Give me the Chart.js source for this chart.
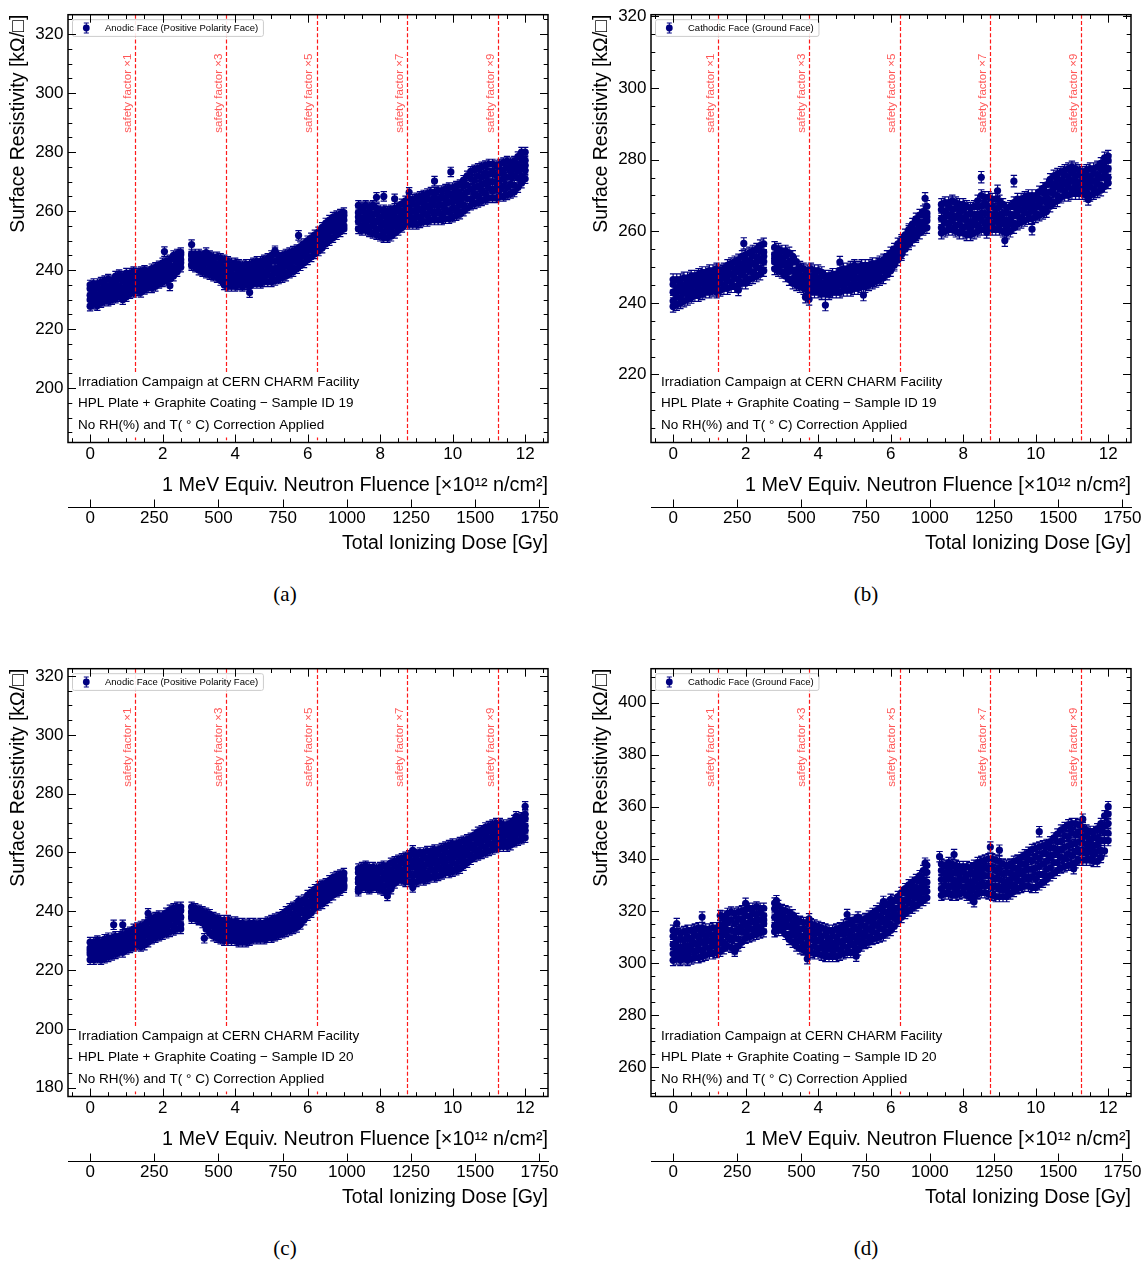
<!DOCTYPE html>
<html>
<head>
<meta charset="utf-8">
<title>Surface resistivity versus fluence</title>
<script src="https://cdn.jsdelivr.net/npm/chart.js@4.4.1/dist/chart.umd.min.js"></script>
<style>
  body { margin: 0; background: #fff; }
  #page { position: relative; width: 1146px; height: 1263px; overflow: hidden; }
  #page canvas { position: absolute; }
  .caption { position: absolute; width: 60px; text-align: center; line-height: 24px;
             font-family: 'Liberation Serif', 'Times New Roman', serif; font-size: 21px; color: #000; }
</style>
</head>
<body>
<div id="page">
  <canvas id="panelA" width="563" height="570" style="left:0px;top:0px"></canvas>
  <canvas id="panelB" width="563" height="570" style="left:583px;top:0px"></canvas>
  <canvas id="panelC" width="563" height="570" style="left:0px;top:654px"></canvas>
  <canvas id="panelD" width="563" height="570" style="left:583px;top:654px"></canvas>
  <div class="caption" style="left:255px;top:582px">(a)</div>
  <div class="caption" style="left:836px;top:582px">(b)</div>
  <div class="caption" style="left:255px;top:1236px">(c)</div>
  <div class="caption" style="left:836px;top:1236px">(d)</div>
</div>
<script>
// fluence points of the measurement runs [x 10^12 n/cm^2]
var fluence = [
  0.0, 0.1, 0.2, 0.3, 0.4, 0.5, 0.6, 0.7, 0.8, 0.9, 1.0, 1.1, 1.2, 1.3, 1.4, 1.5, 1.6, 1.7, 1.8, 1.9, 2.0, 2.1, 2.2, 2.3, 2.4, 2.5,
  2.8, 2.9, 3.0, 3.1, 3.2, 3.3, 3.4, 3.5, 3.6, 3.7, 3.8, 3.9, 4.0, 4.1, 4.2, 4.3, 4.4, 4.5, 4.6, 4.7, 4.8, 4.9, 5.0, 5.1, 5.2, 5.3, 5.4, 5.5, 5.6, 5.7, 5.8, 5.9, 6.0, 6.1, 6.2, 6.3, 6.4, 6.5, 6.6, 6.7, 6.8, 6.9, 7.0,
  7.4, 7.5, 7.6, 7.7, 7.8, 7.9, 8.0, 8.1, 8.2, 8.3, 8.4, 8.5, 8.6, 8.7, 8.8, 8.9, 9.0, 9.1, 9.2, 9.3, 9.4, 9.5, 9.6, 9.7, 9.8, 9.9, 10.0, 10.1, 10.2, 10.3, 10.4, 10.5, 10.6, 10.7, 10.8, 10.9, 11.0, 11.1, 11.2, 11.3, 11.4, 11.5, 11.6, 11.7, 11.8, 11.9, 12.0
];

// Sample 19, anodic face [kOhm/sq]: readings across the band at each fluence point, bottom to top
var anode19Low = [
  227.8, 228.5, 228.0, 229.0, 229.5, 229.5, 230.0, 230.5, 231.0, 230.0, 231.0, 232.0, 232.5, 233.0, 232.5, 233.5, 234.0, 234.0, 234.5, 235.5, 236.0, 236.5, 237.0, 238.0, 239.5, 241.0,
  241.5, 241.0, 240.0, 239.5, 239.0, 238.5, 238.0, 237.5, 236.5, 235.0, 234.5, 234.5, 234.5, 235.0, 234.5, 235.0, 234.5, 235.5, 235.5, 235.5, 236.0, 236.0, 236.0, 236.5, 237.0, 237.5, 238.0, 239.0, 239.5, 240.5, 241.5, 242.5, 243.5, 244.5, 245.5, 246.5, 247.5, 249.0, 250.0, 251.0, 252.0, 253.0, 254.0,
  254.0, 253.5, 253.5, 253.0, 252.5, 252.0, 251.5, 251.0, 251.0, 251.5, 252.5, 253.5, 254.5, 255.5, 255.5, 255.5, 255.5, 256.0, 256.5, 256.5, 257.0, 257.0, 257.0, 257.0, 257.5, 257.5, 258.0, 258.5, 259.0, 260.0, 261.0, 262.0, 262.5, 263.0, 263.5, 264.0, 264.5, 264.5, 264.5, 265.0, 265.0, 265.5, 266.0, 266.5, 268.0, 269.5, 271.0
];
var anode19LowMid = [
  230.0, 229.8, 230.2, 230.5, 231.5, 230.8, 232.0, 232.2, 233.0, 232.5, 232.8, 234.0, 234.0, 234.8, 234.2, 235.5, 235.2, 236.2, 236.0, 237.2, 237.3, 238.2, 238.5, 240.0, 240.8, 242.5,
  242.0, 242.5, 241.0, 241.5, 240.2, 240.8, 239.0, 239.5, 237.8, 237.5, 236.0, 237.0, 236.2, 236.8, 235.8, 237.0, 236.2, 237.8, 236.8, 238.0, 237.2, 238.5, 237.8, 239.0, 238.5, 239.8, 239.2, 241.0, 240.8, 242.8, 242.8, 244.8, 244.8, 246.8, 246.8, 248.8, 248.8, 251.2, 251.2, 253.2, 253.2, 255.0, 255.0,
  256.5, 255.0, 256.2, 254.5, 255.2, 253.8, 254.2, 252.8, 253.8, 253.2, 255.0, 255.0, 257.0, 257.0, 258.2, 257.2, 258.2, 257.8, 259.2, 258.5, 260.0, 259.0, 260.0, 259.0, 260.5, 259.8, 261.0, 260.5, 262.0, 262.2, 264.2, 264.2, 265.8, 265.2, 266.8, 266.2, 267.8, 266.8, 267.8, 267.2, 268.5, 268.0, 269.2, 268.8, 271.2, 271.8, 273.8
];
var anode19Mid = [
  231.5, 232.0, 231.5, 232.5, 233.0, 233.0, 233.5, 234.5, 234.5, 234.0, 235.0, 235.5, 236.0, 236.0, 236.5, 237.0, 237.0, 237.5, 238.0, 238.5, 239.0, 239.5, 240.5, 241.5, 242.5, 243.5,
  243.5, 243.0, 243.0, 242.5, 242.5, 242.0, 241.0, 240.5, 240.0, 239.0, 238.5, 238.5, 238.5, 238.0, 238.0, 238.0, 238.5, 239.0, 239.0, 239.5, 239.5, 240.0, 240.5, 240.5, 241.0, 241.0, 241.5, 242.0, 243.0, 244.0, 245.0, 246.0, 247.0, 248.0, 249.0, 250.0, 251.0, 252.5, 253.5, 254.5, 255.5, 256.0, 257.0,
  258.0, 257.5, 258.0, 257.0, 257.0, 256.5, 256.0, 255.5, 255.5, 256.0, 256.5, 257.5, 258.5, 259.5, 260.0, 260.0, 260.0, 260.5, 261.0, 261.5, 262.0, 262.0, 262.0, 262.0, 262.5, 263.0, 263.0, 263.5, 264.0, 265.5, 266.5, 267.5, 268.0, 268.5, 269.0, 269.5, 270.0, 270.0, 270.0, 270.5, 271.0, 271.5, 271.5, 272.0, 273.5, 275.0, 275.5
];
var anode19MidHigh = [
  233.8, 233.2, 234.0, 233.8, 235.2, 234.5, 235.5, 235.8, 237.0, 236.5, 236.5, 237.8, 237.2, 238.0, 237.5, 239.0, 238.0, 239.5, 239.0, 240.5, 240.2, 241.8, 241.5, 243.8, 243.5, 245.2,
  244.8, 244.0, 244.5, 243.5, 244.5, 243.2, 243.0, 242.2, 242.2, 241.0, 241.0, 240.2, 240.8, 239.8, 240.0, 239.8, 240.5, 240.5, 241.2, 241.0, 241.8, 241.8, 243.0, 243.0, 243.2, 242.8, 243.8, 243.8, 245.0, 245.2, 246.8, 247.2, 248.8, 249.2, 250.8, 251.2, 253.0, 254.0, 255.5, 256.0, 257.2, 257.2, 258.5,
  259.5, 260.0, 259.5, 259.8, 259.0, 259.2, 257.8, 258.5, 257.2, 258.8, 258.2, 260.0, 260.0, 262.0, 261.5, 262.5, 261.8, 263.2, 262.8, 264.2, 263.8, 264.8, 264.0, 265.0, 264.5, 266.0, 265.0, 266.5, 266.0, 268.5, 268.8, 271.0, 270.5, 272.0, 271.5, 273.0, 272.5, 273.5, 272.2, 273.8, 273.2, 274.8, 273.5, 275.0, 275.5, 278.0, 277.2
];
var anode19High = [
  235.0, 235.5, 235.5, 236.0, 236.5, 237.0, 236.5, 238.0, 238.5, 238.0, 239.0, 239.0, 239.5, 239.0, 239.5, 240.0, 239.5, 240.5, 241.0, 241.5, 242.5, 243.0, 243.5, 245.0, 245.5, 246.0,
  245.5, 245.5, 245.5, 245.0, 246.0, 245.0, 244.5, 244.5, 244.0, 243.5, 243.0, 242.5, 242.5, 242.0, 241.5, 242.0, 242.0, 242.5, 243.0, 243.0, 243.5, 244.0, 245.0, 246.0, 245.0, 245.0, 245.5, 246.0, 246.5, 247.0, 248.0, 249.0, 250.0, 251.0, 252.0, 253.0, 254.5, 256.0, 257.0, 258.0, 258.5, 259.0, 259.5,
  262.0, 261.5, 262.0, 261.5, 262.0, 261.0, 260.5, 260.5, 260.0, 260.5, 261.0, 261.5, 262.5, 263.5, 264.0, 264.0, 264.5, 265.0, 265.5, 266.0, 266.5, 266.5, 267.0, 267.0, 267.5, 268.0, 268.0, 268.5, 269.0, 270.5, 272.0, 273.5, 274.0, 274.5, 275.0, 275.5, 276.0, 276.0, 275.5, 276.0, 276.5, 277.0, 276.5, 277.0, 278.5, 280.0, 280.0
];
var anode19OutX = [2.05, 2.2, 2.8, 4.4, 5.1, 5.75, 7.9, 8.1, 8.4, 8.8, 9.5, 9.95];
var anode19OutY = [246.3, 234.7, 248.7, 232.4, 246.6, 251.8, 264.7, 265.0, 264.2, 266.4, 270.2, 273.3];

// Sample 19, cathodic face
var cathode19Low = [
  239.0, 239.5, 240.0, 240.5, 241.0, 241.5, 242.0, 242.0, 242.5, 243.0, 243.0, 243.5, 243.0, 243.5, 244.0, 244.0, 244.5, 244.5, 245.0, 245.5, 245.5, 246.5, 247.0, 247.5, 248.0, 249.0,
  249.5, 249.0, 248.5, 247.5, 246.5, 245.5, 245.0, 244.5, 244.0, 243.5, 243.0, 243.0, 243.0, 242.5, 242.5, 242.5, 243.0, 243.0, 243.0, 243.5, 243.5, 243.5, 244.0, 244.0, 244.5, 244.5, 245.0, 245.5, 246.0, 246.5, 247.0, 248.0, 249.0, 250.5, 252.0, 253.5, 255.0, 256.5, 257.5, 258.5, 259.5, 260.5, 261.0,
  259.5, 260.0, 260.5, 260.5, 260.0, 259.5, 259.5, 259.0, 259.0, 259.5, 260.0, 260.5, 260.5, 260.5, 260.5, 260.5, 260.5, 260.0, 259.5, 260.0, 261.0, 262.0, 262.5, 263.0, 263.5, 263.5, 264.0, 264.5, 265.0, 265.5, 267.0, 268.0, 268.5, 269.5, 270.0, 270.0, 270.5, 270.5, 270.5, 270.5, 270.0, 270.0, 270.5, 271.0, 271.5, 272.5, 273.5
];
var cathode19LowMid = [
  240.5, 241.8, 241.2, 242.8, 242.0, 243.5, 243.0, 244.0, 243.5, 245.0, 244.0, 245.5, 244.2, 245.5, 245.0, 246.2, 245.8, 247.0, 246.5, 248.0, 247.0, 249.0, 248.5, 250.0, 249.5, 251.5,
  251.5, 250.0, 250.5, 248.8, 248.8, 246.8, 247.0, 245.5, 245.8, 244.2, 245.0, 244.0, 245.0, 243.5, 244.2, 243.2, 244.8, 243.8, 245.0, 244.5, 245.5, 244.8, 246.0, 245.0, 246.5, 245.5, 247.0, 246.2, 247.8, 247.2, 249.0, 248.8, 250.8, 251.0, 253.5, 254.0, 256.5, 257.0, 259.0, 259.0, 261.0, 261.0, 263.0,
  261.0, 262.5, 262.0, 263.0, 261.5, 262.0, 261.0, 261.5, 260.2, 261.8, 261.5, 263.2, 262.2, 263.2, 262.0, 263.0, 262.0, 262.2, 260.8, 262.2, 262.2, 264.2, 263.8, 265.2, 264.8, 265.8, 265.0, 266.8, 266.2, 268.0, 268.5, 270.5, 270.0, 271.8, 271.2, 272.5, 271.8, 272.8, 271.5, 272.5, 271.2, 272.5, 271.8, 273.2, 272.8, 275.0, 275.0
];
var cathode19Mid = [
  243.0, 243.0, 243.5, 244.0, 244.0, 244.5, 245.0, 245.0, 245.5, 246.0, 246.0, 246.5, 246.5, 246.5, 247.0, 247.5, 248.0, 248.5, 249.0, 249.5, 249.5, 250.5, 251.0, 251.5, 252.0, 253.0,
  252.5, 252.0, 251.5, 251.0, 250.0, 249.0, 248.0, 247.5, 246.5, 246.0, 246.0, 246.0, 246.0, 245.5, 245.0, 245.0, 245.5, 245.5, 246.0, 246.5, 246.5, 247.0, 247.0, 247.0, 247.5, 247.5, 248.0, 248.0, 248.5, 249.0, 250.0, 250.5, 251.5, 252.5, 254.0, 255.5, 257.0, 258.5, 259.5, 260.5, 261.5, 262.5, 264.0,
  263.5, 264.0, 264.5, 264.5, 264.0, 263.5, 263.5, 263.0, 262.5, 263.0, 264.0, 265.0, 265.0, 265.0, 264.5, 264.5, 264.5, 263.5, 263.0, 263.5, 264.5, 265.5, 266.0, 266.5, 267.0, 267.0, 267.0, 268.0, 268.5, 269.5, 271.0, 272.0, 272.5, 273.0, 273.5, 274.0, 274.0, 274.0, 273.5, 273.5, 273.5, 274.0, 274.0, 274.5, 275.0, 276.5, 277.5
];
var cathode19MidHigh = [
  245.2, 244.2, 245.5, 245.0, 246.0, 245.5, 246.8, 246.0, 247.5, 246.8, 248.0, 247.2, 248.5, 247.2, 248.8, 248.5, 250.0, 249.5, 251.0, 250.8, 252.0, 251.8, 253.2, 252.8, 254.5, 254.2,
  253.5, 254.0, 252.5, 253.2, 251.5, 251.5, 249.2, 249.2, 247.5, 248.0, 247.2, 248.0, 247.0, 247.5, 245.8, 246.8, 246.2, 247.2, 247.0, 248.5, 247.5, 249.0, 248.2, 249.0, 248.5, 249.5, 248.8, 250.0, 249.2, 250.8, 250.5, 252.2, 252.2, 254.2, 254.8, 257.0, 257.5, 260.0, 260.2, 262.5, 262.5, 264.5, 265.0,
  266.0, 265.5, 266.8, 266.0, 266.5, 265.0, 266.0, 264.5, 265.0, 264.5, 266.8, 267.0, 267.8, 266.8, 267.2, 266.2, 267.0, 265.0, 265.2, 264.8, 266.8, 266.8, 268.0, 267.5, 269.0, 268.0, 269.0, 269.0, 270.8, 270.8, 273.2, 273.2, 274.8, 274.2, 275.8, 275.2, 276.5, 275.2, 275.8, 274.5, 275.8, 275.2, 276.2, 275.8, 277.5, 278.0, 279.8
];
var cathode19High = [
  246.5, 246.5, 246.5, 247.0, 247.0, 247.5, 247.5, 248.0, 248.5, 248.5, 249.0, 249.0, 249.5, 249.0, 249.5, 250.5, 251.0, 251.5, 252.0, 253.0, 253.5, 254.0, 254.5, 255.0, 256.0, 256.5,
  255.5, 255.0, 254.5, 254.5, 254.0, 253.0, 251.5, 250.0, 249.5, 249.0, 249.5, 249.0, 249.0, 248.5, 247.5, 247.5, 248.0, 248.0, 249.0, 249.5, 249.5, 250.0, 250.5, 250.0, 250.5, 250.5, 250.5, 251.0, 251.0, 251.5, 252.0, 253.0, 254.0, 255.0, 256.5, 257.5, 259.0, 260.5, 262.0, 263.5, 264.5, 265.5, 267.0,
  267.5, 268.0, 268.0, 268.5, 268.0, 267.5, 267.5, 267.0, 266.5, 267.0, 268.5, 270.0, 269.5, 269.5, 269.0, 269.0, 268.5, 267.5, 266.5, 267.0, 268.0, 269.0, 269.0, 269.5, 270.0, 270.0, 270.0, 271.0, 272.0, 273.0, 274.5, 275.5, 276.0, 276.5, 277.0, 277.5, 278.0, 277.5, 277.0, 276.5, 277.0, 277.5, 277.5, 278.0, 279.0, 280.5, 281.0
];
var cathode19OutX = [1.8, 1.95, 3.65, 3.75, 4.2, 4.6, 5.25, 6.95, 8.5, 8.65, 8.95, 9.15, 9.4, 9.9, 11.45];
var cathode19OutY = [243.6, 256.6, 241.6, 241.0, 239.4, 251.4, 242.2, 269.2, 275.1, 259.7, 271.3, 257.4, 274.0, 260.6, 268.9];

// Sample 20, anodic face
var anode20Low = [
  223.5, 223.5, 224.0, 223.5, 224.0, 224.5, 225.0, 225.5, 226.0, 226.0, 227.0, 227.5, 228.0, 228.5, 228.0, 228.5, 229.5, 230.5, 231.0, 231.5, 232.0, 232.5, 233.0, 233.5, 234.0, 234.0,
  237.5, 237.5, 237.0, 236.0, 234.0, 232.5, 231.5, 231.0, 230.5, 230.0, 230.0, 230.0, 230.0, 229.5, 229.5, 229.5, 230.0, 230.5, 230.5, 230.5, 230.5, 231.0, 231.0, 231.5, 232.0, 232.5, 233.0, 233.5, 234.0, 234.5, 235.5, 237.0, 238.5, 239.5, 241.0, 242.0, 242.5, 243.5, 244.5, 245.5, 246.5, 247.0, 248.0,
  247.5, 248.0, 248.0, 247.5, 248.0, 248.0, 247.5, 247.0, 246.5, 247.5, 249.5, 250.5, 250.5, 250.0, 250.0, 250.0, 250.0, 250.5, 250.5, 251.0, 251.5, 251.5, 252.0, 252.5, 253.0, 253.0, 253.5, 254.0, 254.5, 255.5, 256.5, 257.5, 258.5, 259.0, 259.5, 260.0, 260.5, 261.0, 261.5, 262.0, 262.0, 262.0, 262.5, 263.5, 264.0, 264.5, 265.0
];
var anode20LowMid = [
  225.5, 224.5, 226.0, 224.5, 226.2, 225.5, 227.0, 226.5, 228.0, 227.0, 228.8, 228.2, 230.0, 229.5, 230.2, 229.8, 231.8, 231.8, 233.2, 232.8, 234.2, 233.8, 235.5, 235.0, 236.5, 235.5,
  238.2, 238.8, 237.2, 237.5, 235.0, 234.8, 232.8, 233.0, 231.5, 232.2, 231.0, 232.0, 231.0, 231.5, 230.5, 231.5, 231.0, 232.2, 231.2, 232.2, 231.5, 233.0, 232.0, 233.5, 233.0, 234.5, 234.2, 235.8, 235.2, 237.0, 237.0, 239.2, 239.8, 241.8, 242.2, 244.0, 243.8, 245.5, 245.5, 247.5, 247.5, 249.0, 248.8,
  249.8, 249.2, 250.5, 249.0, 250.2, 249.0, 249.8, 248.5, 249.2, 249.2, 251.8, 251.8, 252.8, 251.8, 253.0, 252.0, 253.0, 252.2, 253.5, 253.0, 254.2, 253.5, 255.0, 254.2, 255.8, 255.0, 256.5, 256.0, 257.2, 257.2, 259.2, 259.0, 261.0, 260.8, 262.2, 261.8, 263.2, 262.8, 264.2, 263.5, 264.5, 263.5, 265.0, 265.0, 266.5, 266.0, 267.5
];
var anode20Mid = [
  226.5, 226.5, 227.0, 226.5, 227.5, 227.5, 228.0, 228.5, 229.0, 229.0, 229.5, 230.0, 231.0, 231.5, 231.5, 232.0, 233.0, 234.0, 234.5, 235.0, 235.5, 236.0, 237.0, 237.5, 238.0, 238.0,
  239.5, 239.0, 238.5, 238.0, 237.0, 236.0, 235.0, 234.0, 233.5, 233.5, 233.0, 233.0, 233.0, 232.5, 232.5, 232.5, 233.0, 233.0, 233.0, 233.0, 233.5, 234.0, 234.0, 234.5, 235.0, 235.5, 236.5, 237.0, 237.5, 238.5, 239.5, 240.5, 242.0, 243.0, 244.5, 245.0, 246.0, 246.5, 247.5, 248.5, 249.5, 250.0, 250.5,
  251.0, 251.5, 252.0, 251.5, 251.5, 251.0, 251.0, 251.0, 251.0, 252.0, 253.0, 254.0, 254.0, 254.5, 255.0, 255.0, 255.0, 255.0, 255.5, 256.0, 256.0, 256.5, 257.0, 257.0, 257.5, 258.0, 258.5, 259.0, 259.0, 260.0, 261.0, 261.5, 262.5, 263.5, 264.0, 264.5, 265.0, 265.5, 266.0, 266.0, 266.0, 266.0, 266.5, 267.5, 268.0, 268.5, 269.0
];
var anode20MidHigh = [
  227.5, 228.5, 228.0, 228.5, 228.5, 229.8, 229.0, 230.5, 229.8, 231.0, 230.5, 232.0, 232.0, 233.5, 232.8, 234.2, 234.2, 236.2, 235.8, 237.2, 236.5, 238.2, 238.2, 239.8, 239.2, 240.2,
  240.0, 240.5, 239.0, 239.5, 237.8, 238.0, 236.0, 236.2, 234.8, 235.8, 234.5, 235.2, 234.2, 234.8, 233.8, 234.5, 234.0, 235.0, 233.8, 235.0, 234.2, 235.8, 235.0, 236.5, 236.0, 237.8, 237.8, 239.5, 239.0, 240.8, 240.8, 242.8, 243.2, 245.2, 245.5, 247.2, 247.0, 248.5, 248.5, 250.5, 250.2, 251.8, 251.2,
  253.2, 252.8, 254.2, 252.8, 253.8, 252.2, 253.5, 252.8, 253.8, 253.8, 255.5, 255.2, 256.5, 256.0, 257.5, 256.8, 257.8, 257.0, 258.2, 257.8, 258.8, 258.2, 259.5, 258.8, 260.2, 259.8, 261.2, 260.5, 261.8, 261.5, 263.2, 262.8, 264.8, 264.8, 266.2, 266.0, 267.5, 267.0, 268.5, 267.5, 268.2, 267.2, 268.8, 268.8, 270.2, 269.8, 271.5
];
var anode20High = [
  229.5, 229.5, 230.0, 229.5, 230.5, 231.0, 231.0, 231.5, 231.5, 232.0, 232.5, 233.0, 234.0, 234.5, 235.0, 235.5, 236.5, 237.5, 238.0, 238.5, 238.5, 239.5, 240.5, 241.0, 241.5, 241.5,
  241.5, 241.0, 240.5, 240.0, 239.5, 239.0, 238.0, 237.5, 237.0, 237.0, 237.0, 236.5, 236.5, 236.0, 236.0, 235.5, 236.0, 236.0, 235.5, 236.0, 236.0, 236.5, 237.0, 237.5, 238.0, 239.0, 240.0, 241.0, 241.5, 242.0, 243.0, 244.0, 245.5, 246.5, 247.5, 248.5, 249.0, 249.5, 250.5, 251.5, 252.0, 252.5, 253.0,
  254.5, 255.0, 255.5, 255.0, 255.0, 254.5, 255.0, 255.5, 255.5, 256.5, 257.0, 257.5, 258.0, 258.5, 259.0, 259.5, 259.5, 260.0, 260.0, 260.5, 260.5, 261.0, 261.0, 261.5, 262.0, 262.5, 263.0, 263.0, 263.5, 264.0, 264.5, 265.0, 266.0, 267.0, 267.5, 268.5, 269.0, 269.5, 270.0, 270.0, 269.5, 269.5, 270.0, 271.0, 271.5, 272.0, 273.0
];
var anode20OutX = [0.65, 0.9, 1.6, 3.15, 5.75, 7.4, 8.2, 8.9, 8.9, 11.75, 12.0];
var anode20OutY = [235.4, 235.4, 239.3, 230.8, 243.5, 246.8, 245.2, 248.1, 260.7, 272.3, 275.7];

// Sample 20, cathodic face
var cathode20Low = [
  301.0, 301.5, 301.0, 301.5, 301.0, 301.5, 302.0, 302.0, 302.5, 303.0, 303.5, 303.5, 304.0, 304.5, 305.5, 306.5, 306.0, 305.5, 306.5, 308.0, 309.5, 310.0, 310.5, 311.0, 311.5, 312.0,
  312.0, 312.5, 312.5, 311.0, 309.0, 308.0, 306.5, 305.5, 305.0, 304.0, 304.0, 303.5, 303.5, 303.0, 302.5, 302.5, 302.5, 302.5, 303.0, 303.5, 304.0, 304.0, 304.0, 305.0, 306.5, 307.5, 308.0, 309.0, 309.5, 310.0, 310.5, 311.5, 312.5, 314.0, 316.0, 317.5, 319.0, 320.0, 321.0, 322.0, 323.0, 324.0, 325.0,
  326.0, 326.5, 326.5, 326.0, 326.0, 326.5, 327.0, 326.0, 325.0, 325.5, 326.5, 327.0, 327.0, 326.5, 326.0, 325.5, 325.5, 325.5, 325.5, 326.5, 327.5, 328.5, 329.0, 329.5, 329.5, 329.0, 329.0, 330.0, 331.0, 332.0, 333.5, 334.5, 335.5, 336.5, 337.0, 337.5, 338.0, 338.5, 339.5, 339.5, 339.5, 339.5, 339.0, 339.0, 340.5, 343.0, 347.0
];
var cathode20LowMid = [
  303.5, 304.8, 303.0, 304.5, 303.2, 305.0, 304.2, 305.5, 304.8, 306.2, 305.5, 306.8, 306.0, 307.8, 307.8, 310.2, 308.8, 309.5, 309.2, 311.8, 311.8, 313.5, 312.8, 314.5, 313.5, 315.0,
  314.2, 315.2, 314.0, 313.8, 311.0, 311.0, 308.5, 308.5, 307.0, 307.2, 306.0, 306.5, 305.5, 306.0, 304.5, 305.5, 304.5, 305.5, 305.0, 306.5, 306.0, 307.2, 306.5, 308.2, 308.5, 310.2, 310.0, 312.0, 311.5, 313.2, 313.0, 314.8, 314.8, 317.2, 318.0, 320.5, 321.0, 323.0, 323.0, 325.0, 325.2, 327.2, 327.5,
  328.5, 329.8, 329.0, 329.5, 328.2, 329.8, 329.0, 329.2, 327.5, 329.0, 329.0, 330.5, 329.8, 330.5, 329.0, 329.5, 328.2, 329.0, 327.8, 329.8, 329.8, 331.8, 331.2, 333.0, 332.2, 333.0, 332.2, 334.0, 334.0, 336.0, 336.5, 338.5, 338.5, 340.5, 340.2, 341.8, 341.2, 342.8, 342.5, 343.2, 342.0, 342.8, 341.5, 342.8, 343.2, 347.0, 349.8
];
var cathode20Mid = [
  307.0, 306.5, 306.0, 306.5, 306.5, 307.0, 307.5, 307.5, 308.0, 308.0, 308.5, 308.5, 309.0, 309.5, 311.0, 312.5, 312.5, 312.0, 313.0, 314.0, 315.0, 315.5, 316.0, 316.5, 316.5, 316.5,
  317.5, 317.0, 316.5, 315.5, 314.0, 313.0, 311.5, 310.5, 310.0, 309.5, 309.0, 308.5, 308.5, 308.0, 307.5, 307.5, 307.5, 307.5, 308.0, 308.5, 309.0, 309.5, 310.0, 310.5, 311.5, 312.0, 313.0, 314.0, 314.5, 315.5, 316.5, 317.0, 318.0, 319.5, 321.0, 322.5, 324.0, 325.0, 326.0, 327.0, 328.5, 329.5, 331.0,
  332.0, 332.0, 332.5, 332.0, 331.5, 332.0, 332.0, 331.5, 331.0, 331.5, 332.5, 333.0, 333.5, 333.5, 333.0, 332.5, 332.0, 331.5, 331.0, 332.0, 333.0, 334.0, 334.5, 335.5, 336.0, 336.0, 336.5, 337.0, 338.0, 339.0, 340.5, 341.5, 342.5, 343.5, 344.5, 345.0, 345.5, 346.0, 346.5, 346.0, 345.5, 345.0, 345.0, 345.5, 347.0, 350.0, 353.5
];
var cathode20MidHigh = [
  310.2, 308.8, 309.2, 308.8, 310.0, 309.2, 310.8, 310.0, 311.2, 310.0, 311.2, 310.5, 311.8, 311.5, 314.5, 315.2, 316.5, 315.0, 316.8, 316.5, 318.2, 317.8, 319.0, 318.5, 319.2, 318.2,
  320.8, 319.0, 319.0, 317.2, 317.2, 315.2, 314.8, 312.8, 313.2, 312.0, 312.5, 311.0, 311.8, 310.2, 310.8, 309.5, 310.5, 309.8, 311.2, 311.0, 312.5, 312.0, 313.8, 313.0, 314.5, 314.0, 316.0, 316.0, 317.8, 317.8, 319.8, 319.2, 321.0, 321.2, 323.8, 324.2, 326.8, 327.0, 329.0, 329.0, 331.5, 332.0, 334.8,
  335.5, 334.2, 336.0, 334.5, 335.0, 334.0, 335.0, 333.8, 334.2, 334.0, 336.0, 335.5, 337.0, 336.2, 337.0, 335.5, 336.0, 334.2, 334.8, 334.5, 336.5, 336.2, 338.0, 338.0, 339.8, 339.2, 340.8, 340.2, 342.0, 341.8, 344.0, 344.2, 346.5, 346.8, 348.8, 348.5, 350.0, 349.2, 350.2, 348.5, 348.8, 347.2, 348.2, 348.0, 350.8, 352.8, 357.2
];
var cathode20High = [
  312.5, 312.0, 311.5, 312.0, 312.5, 312.5, 313.0, 313.5, 313.5, 313.0, 313.0, 313.5, 313.5, 314.5, 317.0, 319.0, 319.5, 319.0, 319.5, 320.0, 320.5, 321.0, 321.0, 321.5, 321.0, 321.0,
  323.0, 322.0, 320.5, 320.0, 319.5, 318.5, 317.0, 316.0, 315.5, 315.5, 315.0, 314.5, 314.0, 313.5, 313.0, 312.5, 312.5, 313.0, 313.5, 314.5, 315.0, 315.5, 316.5, 316.5, 316.5, 317.0, 318.0, 319.0, 320.0, 321.0, 322.0, 322.5, 323.0, 324.0, 325.5, 327.0, 328.5, 330.0, 331.0, 332.0, 333.5, 335.5, 337.5,
  338.0, 337.5, 338.5, 338.0, 337.5, 337.0, 337.0, 337.0, 336.5, 337.5, 338.5, 339.0, 339.5, 340.0, 340.0, 339.5, 339.0, 338.0, 337.5, 338.0, 339.0, 339.5, 340.5, 341.5, 342.5, 343.5, 344.0, 344.5, 345.0, 345.5, 346.5, 348.0, 349.5, 351.0, 352.0, 353.0, 353.5, 353.5, 353.0, 352.0, 351.0, 350.5, 350.5, 351.5, 353.5, 356.5, 360.0
];
var cathode20OutX = [0.1, 0.8, 1.3, 1.35, 1.7, 2.0, 2.85, 3.7, 3.75, 4.8, 5.05, 5.1, 5.8, 6.0, 6.95, 7.35, 7.75, 8.3, 8.75, 9.0, 10.1, 11.05, 11.3];
var cathode20OutY = [315.1, 317.6, 318.2, 318.0, 304.5, 322.9, 323.9, 301.6, 316.9, 318.6, 302.6, 317.6, 323.6, 324.4, 338.3, 340.8, 341.6, 323.5, 344.5, 343.3, 350.4, 336.2, 355.2];

// safety factor markers on the fluence axis
var safetyFluence = [1.25, 3.75, 6.25, 8.75, 11.25];
var safetyLabels = ['\u00d71', '\u00d73', '\u00d75', '\u00d77', '\u00d79'];

// dose that goes with one fluence unit [Gy]
var gyPerFluence = 141.2;

var NAVY = '#000080';
var FONT = "'Liberation Sans', Arial, sans-serif";
Chart.defaults.font.family = FONT;
Chart.defaults.color = '#000';

function buildPoints(rows, outX, outY) {
  var pts = [];
  rows.forEach(function (row) {
    row.forEach(function (v, i) {
      pts.push({ x: fluence[i], y: v });
    });
  });
  outX.forEach(function (x, i) {
    pts.push({ x: x, y: outY[i] });
  });
  return pts;
}

// vertical error bars under every marker
var errorBars = {
  id: 'errorBars',
  beforeDatasetsDraw: function (chart, args, opts) {
    var ctx = chart.ctx;
    var a = chart.chartArea;
    var y = chart.scales.y;
    var data = chart.data.datasets[0].data;
    ctx.save();
    ctx.beginPath();
    ctx.rect(a.left, a.top, a.right - a.left, a.bottom - a.top);
    ctx.clip();
    ctx.strokeStyle = NAVY;
    ctx.lineWidth = 1.2;
    ctx.beginPath();
    chart.getDatasetMeta(0).data.forEach(function (pt, i) {
      var top = y.getPixelForValue(data[i].y + opts.sigma);
      var bot = y.getPixelForValue(data[i].y - opts.sigma);
      ctx.moveTo(pt.x, top); ctx.lineTo(pt.x, bot);
      ctx.moveTo(pt.x - 3.2, top); ctx.lineTo(pt.x + 3.2, top);
      ctx.moveTo(pt.x - 3.2, bot); ctx.lineTo(pt.x + 3.2, bot);
    });
    ctx.stroke();
    ctx.restore();
  }
};

// safety lines, info text, legend, frame and inward ticks
var panelDecor = {
  id: 'panelDecor',
  afterDraw: function (chart, args, opts) {
    var ctx = chart.ctx;
    var a = chart.chartArea;
    var x = chart.scales.x, y = chart.scales.y, x2 = chart.scales.x2;
    ctx.save();

    // dashed safety factor lines
    ctx.strokeStyle = 'rgba(255,0,0,0.9)';
    ctx.lineWidth = 1.2;
    ctx.setLineDash([4, 2.2]);
    safetyFluence.forEach(function (f) {
      var px = Math.round(x.getPixelForValue(f)) + 0.5;
      ctx.beginPath();
      ctx.moveTo(px, a.top);
      ctx.lineTo(px, a.bottom);
      ctx.stroke();
    });
    ctx.setLineDash([]);
    ctx.fillStyle = 'rgba(255,30,30,0.75)';
    ctx.font = '11.5px ' + FONT;
    ctx.textAlign = 'right';
    ctx.textBaseline = 'middle';
    safetyFluence.forEach(function (f, i) {
      ctx.save();
      ctx.translate(x.getPixelForValue(f) - 7.5, a.top + 39);
      ctx.rotate(-Math.PI / 2);
      ctx.fillText('safety factor ' + safetyLabels[i], 0, 0);
      ctx.restore();
    });

    // campaign info block
    ctx.fillStyle = '#fff';
    ctx.fillRect(a.left + 3, a.bottom - 70, 296, 65);
    ctx.fillStyle = '#000';
    ctx.font = '13.5px ' + FONT;
    ctx.textAlign = 'left';
    ctx.fillText('Irradiation Campaign at CERN CHARM Facility', a.left + 10, a.bottom - 60);
    ctx.fillText(opts.sample, a.left + 10, a.bottom - 39);
    ctx.fillText('No RH(%) and T( \u00b0 C) Correction Applied', a.left + 10, a.bottom - 17);

    // legend
    var label = chart.data.datasets[0].label;
    var cy = a.top + 13.3;
    var mx = a.left + 18.3;
    ctx.font = '9.5px ' + FONT;
    var tw = ctx.measureText(label).width;
    ctx.beginPath();
    ctx.roundRect(a.left + 4.5, a.top + 5, 32.8 + tw + 5, 16.7, 2);
    ctx.fillStyle = 'rgba(255,255,255,0.9)';
    ctx.fill();
    ctx.strokeStyle = '#cccccc';
    ctx.lineWidth = 1;
    ctx.stroke();
    ctx.strokeStyle = NAVY;
    ctx.beginPath();
    ctx.moveTo(mx, cy - 5); ctx.lineTo(mx, cy + 5);
    ctx.moveTo(mx - 2.5, cy - 5); ctx.lineTo(mx + 2.5, cy - 5);
    ctx.moveTo(mx - 2.5, cy + 5); ctx.lineTo(mx + 2.5, cy + 5);
    ctx.stroke();
    ctx.fillStyle = NAVY;
    ctx.beginPath();
    ctx.arc(mx, cy, 3.4, 0, 2 * Math.PI);
    ctx.fill();
    ctx.fillStyle = '#000';
    ctx.fillText(label, a.left + 37, cy);

    // inward ticks on all four sides
    ctx.strokeStyle = '#000';
    ctx.lineWidth = 1;
    ctx.beginPath();
    for (var k = Math.ceil(x.min * 2); k <= Math.floor(x.max * 2); k++) {
      var px = Math.round(x.getPixelForValue(k / 2)) + 0.5;
      var len = k % 4 === 0 ? 8 : 4.3;
      ctx.moveTo(px, a.bottom); ctx.lineTo(px, a.bottom - len);
      ctx.moveTo(px, a.top); ctx.lineTo(px, a.top + len);
    }
    for (var j = Math.ceil(y.min / 5); j <= Math.floor(y.max / 5); j++) {
      var py = Math.round(y.getPixelForValue(j * 5)) + 0.5;
      var ylen = j % 4 === 0 ? 8 : 4.3;
      ctx.moveTo(a.left, py); ctx.lineTo(a.left + ylen, py);
      ctx.moveTo(a.right, py); ctx.lineTo(a.right - ylen, py);
    }
    // dose axis ticks point up
    x2.ticks.forEach(function (t) {
      var px = Math.round(x2.getPixelForValue(t.value)) + 0.5;
      ctx.moveTo(px, x2.top); ctx.lineTo(px, x2.top - 8);
    });
    ctx.stroke();

    ctx.lineWidth = 1.5;
    ctx.strokeRect(a.left, a.top, a.right - a.left, a.bottom - a.top);
    ctx.restore();
  }
};

var xMin = -0.61, xMax = 12.63;

function makePanel(p) {
  var ctx = document.getElementById(p.canvas).getContext('2d');
  return new Chart(ctx, {
    type: 'scatter',
    data: {
      datasets: [{
        label: p.legend,
        data: buildPoints(p.rows, p.outX, p.outY),
        backgroundColor: NAVY,
        borderColor: NAVY,
        pointRadius: 3.6,
        pointHoverRadius: 3.6,
        pointBorderWidth: 0
      }]
    },
    options: {
      responsive: false,
      animation: false,
      events: [],
      layout: { padding: { left: 0, right: 15, top: p.padTop, bottom: 10.5 } },
      plugins: {
        legend: { display: false },
        tooltip: { enabled: false },
        errorBars: { sigma: p.sigma },
        panelDecor: { sample: p.sample }
      },
      scales: {
        x: {
          type: 'linear',
          position: 'bottom',
          min: xMin,
          max: xMax,
          grid: { display: false, drawTicks: false },
          border: { display: false },
          ticks: { stepSize: 2, includeBounds: false, padding: 1.5, maxRotation: 0, autoSkip: false,
                   font: { size: 17 }, callback: function (v) { return String(v); } },
          title: { display: true, align: 'end', text: '1 MeV Equiv. Neutron Fluence [\u00d710\u00b9\u00b2 n/cm\u00b2]',
                   font: { size: 19.8 }, padding: { top: 0, bottom: 9.8 } },
          afterFit: function (s) { s.height = 65; }
        },
        x2: {
          type: 'linear',
          position: 'bottom',
          weight: 1,
          min: xMin * gyPerFluence,
          max: xMax * gyPerFluence,
          grid: { display: false, drawTicks: false },
          border: { display: true, color: '#000', width: 1 },
          ticks: { stepSize: 250, includeBounds: false, padding: 1, maxRotation: 0, autoSkip: false,
                   font: { size: 17 }, callback: function (v) { return String(v); } },
          title: { display: true, align: 'end', text: 'Total Ionizing Dose [Gy]',
                   font: { size: 19.5 }, padding: { top: 0, bottom: 3.8 } },
          afterFit: function (s) { s.height = 52; }
        },
        y: {
          type: 'linear',
          min: p.yMin,
          max: p.yMax,
          grid: { display: false, drawTicks: false },
          border: { display: false },
          ticks: { stepSize: 20, includeBounds: false, padding: 4.5, font: { size: 17 },
                   callback: function (v) { return String(v); } },
          title: { display: true, align: 'end', text: 'Surface Resistivity [k\u03a9/\u25a1]',
                   font: { size: 19.5 }, padding: { top: 7.3, bottom: 0 } },
          afterFit: function (s) { s.width = 68; }
        }
      }
    },
    plugins: [errorBars, panelDecor]
  });
}

makePanel({ canvas: 'panelA', legend: 'Anodic Face (Positive Polarity Face)', sample: 'HPL Plate + Graphite Coating \u2212 Sample ID 19',
  yMin: 181.6, yMax: 326.6, padTop: 5, sigma: 1.6,
  rows: [anode19Low, anode19LowMid, anode19Mid, anode19MidHigh, anode19High], outX: anode19OutX, outY: anode19OutY });
makePanel({ canvas: 'panelB', legend: 'Cathodic Face (Ground Face)', sample: 'HPL Plate + Graphite Coating \u2212 Sample ID 19',
  yMin: 201.0, yMax: 320.5, padTop: 10.5, sigma: 1.6,
  rows: [cathode19Low, cathode19LowMid, cathode19Mid, cathode19MidHigh, cathode19High], outX: cathode19OutX, outY: cathode19OutY });
makePanel({ canvas: 'panelC', legend: 'Anodic Face (Positive Polarity Face)', sample: 'HPL Plate + Graphite Coating \u2212 Sample ID 20',
  yMin: 177.0, yMax: 322.5, padTop: 5.3, sigma: 1.6,
  rows: [anode20Low, anode20LowMid, anode20Mid, anode20MidHigh, anode20High], outX: anode20OutX, outY: anode20OutY });
makePanel({ canvas: 'panelD', legend: 'Cathodic Face (Ground Face)', sample: 'HPL Plate + Graphite Coating \u2212 Sample ID 20',
  yMin: 248.7, yMax: 413.0, padTop: 5.3, sigma: 2.0,
  rows: [cathode20Low, cathode20LowMid, cathode20Mid, cathode20MidHigh, cathode20High], outX: cathode20OutX, outY: cathode20OutY });
</script>
</body>
</html>
